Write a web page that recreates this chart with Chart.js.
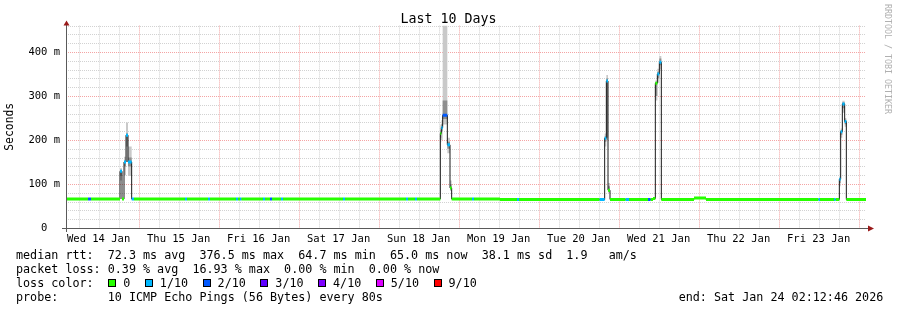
<!DOCTYPE html>
<html><head><meta charset="utf-8">
<script src="https://cdn.jsdelivr.net/npm/chart.js@4.4.1/dist/chart.umd.min.js"></script>
<style>
html,body{margin:0;padding:0;background:#fff;}
#wrap{position:relative;width:897px;height:310px;overflow:hidden;background:#fff;}
#c{position:absolute;left:0;top:0;}
.t{position:absolute;font-family:"DejaVu Sans Mono",monospace;white-space:pre;color:#000;}
.lg{font-size:11.73px;line-height:14px;left:16px;}
#leg{display:flex;align-items:center;}
#leg .box{display:inline-block;width:6px;height:6px;border:1px solid #000;margin-right:7px;}
#leg .lab{margin-right:14.5px;}
</style></head><body>
<div id="wrap">
<canvas id="c" width="897" height="310"></canvas>
<div class="t" style="left:0;width:897px;text-align:center;top:11px;font-size:13.3px;line-height:16px;">Last 10 Days</div>
<div class="t" style="left:883px;top:4px;font-size:8.3px;line-height:9px;color:#b0b0b0;writing-mode:vertical-rl;">RRDTOOL / TOBI OETIKER</div>
<div class="t lg" style="top:247.5px">median rtt:  72.3 ms avg  376.5 ms max  64.7 ms min  65.0 ms now  38.1 ms sd  1.9   am/s</div>
<div class="t lg" style="top:261.5px">packet loss: 0.39 % avg  16.93 % max  0.00 % min  0.00 % now</div>
<div class="t lg" style="top:275.5px">loss color:</div>
<div class="t lg" id="leg" style="top:275.5px;left:108.3px"></div>
<div class="t lg" style="top:289.5px">probe:       10 ICMP Echo Pings (56 Bytes) every 80s</div>
<div class="t lg" style="top:289.5px;left:678.7px">end: Sat Jan 24 02:12:46 2026</div>
</div>
<script>
// ---- data (hours since Wed 14 Jan 02:12:46, 10 days = 240 h) ----
const dayLabels = ["Wed 14 Jan","Thu 15 Jan","Fri 16 Jan","Sat 17 Jan","Sun 18 Jan","Mon 19 Jan","Tue 20 Jan","Wed 21 Jan","Thu 22 Jan","Fri 23 Jan"];
const spanHours = 240;
const firstGridHour = 3.7872; // 06:00 Wed 14 Jan
const lossLabels = ["0","1/10","2/10","3/10","4/10","5/10","9/10"];
const lossColors = ["#26ff00","#00b8ff","#0059ff","#5e00ff","#7e00ff","#dd00ff","#ff0000"];

// median RTT step segments: start hour, median (ms), loss level
const segStart  = [0,6.6,7.5,16.2,16.8,17.4,18.0,18.6,19.7,20.4,35.7,36.3,42.6,43.2,51.0,51.6,52.2,52.65,59.1,59.7,61.2,61.8,64.5,65.1,83.1,83.7,102.0,102.6,104.7,105.3,112.3,112.6,113.0,114.4,115.2,115.7,121.8,122.4,130.2,135.3,135.9,160.1,161.6,162.1,162.6,163.2,167.9,168.9,174.6,175.4,176.1,176.8,177.4,178.0,178.6,188.4,192.0,225.75,226.2,230.4,230.9,232.0,232.4,232.9,233.6,234.1];
const segMedian = [65.8,65.8,65.8,129,65.8,150,211,150,65.8,65.8,65.8,65.8,65.8,65.8,65.8,65.8,65.8,65.8,65.8,65.8,65.8,65.8,65.8,65.8,65.8,65.8,65.8,65.8,65.8,65.8,215,228,256,189,91,65.8,65.8,65.8,64.9,64.9,64.9,64.9,204,334,86,64.9,64.9,64.9,64.9,64.9,67,329,350,376.5,64.9,68,64.9,64.9,64.9,64.9,64.9,111,219,282,242,64.9];
const segLoss   = [0,2,0,1,0,1,1,1,1,0,1,0,1,0,1,0,1,0,1,0,2,0,1,0,1,0,1,0,1,0,0,1,2,1,0,0,1,0,0,1,0,1,1,1,0,0,1,0,2,0,0,0,1,1,0,0,0,1,0,1,0,1,1,1,1,0];
// smoke (ping spread): outer and inner bands, null = none
const smokeLo = [null,null,null,108,null,120,150,118,null,null,null,null,null,null,null,null,null,null,null,null,null,null,null,null,null,null,null,null,null,null,195,200,235,170,84,null,null,null,null,null,null,null,185,200,80,null,null,null,null,null,null,290,330,360,null,null,null,null,null,null,null,95,205,262,230,null];
const smokeHi = [null,null,null,136,null,162,240,185,null,null,null,null,null,null,null,null,null,null,null,null,null,null,null,null,null,null,null,null,null,null,235,245,480,205,108,null,null,null,null,null,null,null,215,348,102,null,null,null,null,null,null,335,362,391,null,null,null,null,null,null,null,117,226,289,250,null];
const coreLo  = [null,null,null,118,null,140,185,140,null,null,null,null,null,null,null,null,null,null,null,null,null,null,null,null,null,null,null,null,null,null,205,220,248,180,88,null,null,null,null,null,null,null,196,205,83,null,null,null,null,null,null,300,340,370,null,null,null,null,null,null,null,102,212,272,236,null];
const coreHi  = [null,null,null,131,null,153,215,160,null,null,null,null,null,null,null,null,null,null,null,null,null,null,null,null,null,null,null,null,null,null,222,236,290,196,100,null,null,null,null,null,null,null,208,340,95,null,null,null,null,null,null,332,355,385,null,null,null,null,null,null,null,113,222,285,246,null];

// ---- build datasets ----
const n = segStart.length;
function stepSeries(arr){
  const pts = segStart.map((t,i)=>({x:t, y:(arr[i]==null?segMedian[i]:arr[i])}));
  pts.push({x:spanHours, y:pts[n-1].y});
  return pts;
}
const medianPts = stepSeries(segMedian);
const overlayPts = [], overlayLoss = [];
for (let i=0;i<n;i++){
  const t1 = i<n-1 ? segStart[i+1] : spanHours;
  overlayPts.push({x:segStart[i], y:segMedian[i]}); overlayLoss.push(segLoss[i]);
  overlayPts.push({x:t1, y:segMedian[i]}); overlayLoss.push(segLoss[i]);
  overlayPts.push({x:t1, y:null}); overlayLoss.push(segLoss[i]);
}

// legend boxes
const leg = document.getElementById('leg');
lossLabels.forEach((l,i)=>{
  const b=document.createElement('span'); b.className='box'; b.style.background=lossColors[i]; leg.appendChild(b);
  const s=document.createElement('span'); s.className='lab'; s.textContent=l; leg.appendChild(s);
});

const MONO = '"DejaVu Sans Mono", monospace';
const minorGrid = '#d2d2d2', majorGrid = '#f4a4a4';

function isMidnight(v){ const k=Math.round((v-firstGridHour)/6); return k%4===3; }

// dotted rrdtool-style grid, placed with the chart's own scales
const gridPlugin = {
  id:'rrdGrid',
  beforeDatasetsDraw(chart){
    const {ctx, chartArea:a, scales} = chart;
    ctx.save();
    ctx.lineWidth=1; ctx.setLineDash([1,1]);
    [false,true].forEach(major=>{
      ctx.strokeStyle = major ? majorGrid : minorGrid;
      ctx.beginPath();
      scales.x.ticks.forEach(t=>{
        if (isMidnight(t.value)!==major) return;
        const p=Math.round(scales.x.getPixelForValue(t.value))+0.5;
        ctx.moveTo(p, a.top); ctx.lineTo(p, a.bottom);
      });
      scales.y.ticks.forEach(t=>{
        if (t.value===0 || ((t.value%100===0)!==major)) return;
        const p=Math.round(scales.y.getPixelForValue(t.value))+0.5;
        ctx.moveTo(a.left, p); ctx.lineTo(a.right, p);
      });
      ctx.stroke();
    });
    ctx.restore();
  },
  afterDraw(chart){
    const {ctx, chartArea:a} = chart;
    const xb = Math.round(a.bottom)+0.5, xl = Math.round(a.left)+0.5;
    ctx.save();
    ctx.strokeStyle='#5a5a5a'; ctx.lineWidth=1; ctx.setLineDash([]);
    ctx.beginPath();
    ctx.moveTo(a.left-4, xb); ctx.lineTo(a.right+4, xb);
    ctx.moveTo(xl, a.bottom+4); ctx.lineTo(xl, a.top-1);
    ctx.stroke();
    ctx.fillStyle='#9a1a1a';
    ctx.beginPath(); ctx.moveTo(xl-3, a.top); ctx.lineTo(xl+3, a.top); ctx.lineTo(xl, a.top-5); ctx.closePath(); ctx.fill();
    ctx.beginPath(); ctx.moveTo(a.right+2, xb-3); ctx.lineTo(a.right+2, xb+3); ctx.lineTo(a.right+8, xb); ctx.closePath(); ctx.fill();
    ctx.restore();
  }
};

new Chart(document.getElementById('c'), {
  type:'line',
  data:{datasets:[
    {data:overlayPts, order:0, borderWidth:3, borderCapStyle:'butt', spanGaps:false, pointRadius:0,
     segment:{borderColor:ctx=>lossColors[overlayLoss[ctx.p0DataIndex]]}, borderColor:lossColors[0], fill:false},
    {data:medianPts, order:1, borderWidth:1, borderColor:'#1a1a1a', stepped:'before', pointRadius:0, fill:false},
    {data:stepSeries(coreHi), order:2, borderWidth:0, stepped:'before', pointRadius:0, fill:'+1', backgroundColor:'#8e8e8e', borderColor:'rgba(0,0,0,0)'},
    {data:stepSeries(coreLo), order:3, borderWidth:0, stepped:'before', pointRadius:0, fill:false, borderColor:'rgba(0,0,0,0)'},
    {data:stepSeries(smokeHi), order:4, borderWidth:0, stepped:'before', pointRadius:0, fill:'+1', backgroundColor:'#c9c9c9', borderColor:'rgba(0,0,0,0)'},
    {data:stepSeries(smokeLo), order:5, borderWidth:0, stepped:'before', pointRadius:0, fill:false, borderColor:'rgba(0,0,0,0)'}
  ]},
  options:{
    responsive:false, animation:false, devicePixelRatio:1,
    layout:{padding:{left:0,right:31,top:25.6,bottom:0}},
    plugins:{legend:{display:false}, tooltip:{enabled:false}, title:{display:false}},
    scales:{
      x:{type:'linear', min:0, max:spanHours,
        afterBuildTicks(s){ const t=[]; for(let v=firstGridHour; v<spanHours; v+=6) t.push({value:v}); s.ticks=t; },
        afterFit(s){ s.height=82; },
        ticks:{autoSkip:false, maxRotation:0, minRotation:0, padding:5, color:'#000', font:{family:MONO,size:10.5},
          callback(v){ const k=Math.round((v-firstGridHour)/6); return k%4===1 ? dayLabels[(k-1)/4] : ''; }},
        grid:{display:false, drawTicks:false},
        border:{display:false}
      },
      y:{type:'linear', min:0, max:460,
        afterFit(s){ s.width=66; },
        ticks:{stepSize:20, autoSkip:false, padding:6, color:'#000', font:{family:MONO,size:10.5},
          callback(v){ return v%100!==0 ? '' : (v===0 ? '0  ' : v+' m'); }},
        grid:{display:false, drawTicks:false},
        border:{display:false},
        title:{display:true, text:'Seconds', color:'#000', font:{family:MONO,size:11.4}, padding:{top:3,bottom:0}}
      }
    }
  },
  plugins:[gridPlugin]
});
</script>
</body></html>
